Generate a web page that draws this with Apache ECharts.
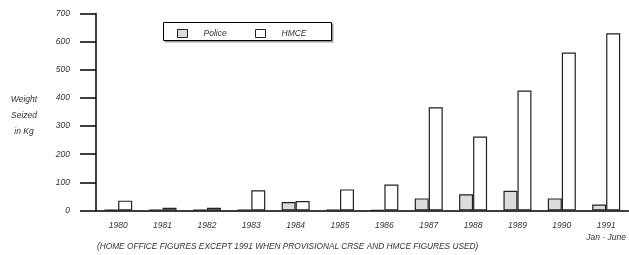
<!DOCTYPE html>
<html>
<head>
<meta charset="utf-8">
<script src="https://cdn.jsdelivr.net/npm/echarts@6/dist/echarts.min.js"></script>
<style>
  html, body { margin: 0; padding: 0; background: #fff; }
  #chart { width: 629px; height: 255px; }
</style>
</head>
<body>
<div id="chart"></div>
<script>
// years along the x axis
var years = ['1980', '1981', '1982', '1983', '1984', '1985', '1986', '1987', '1988', '1989', '1990', '1991'];
// weight seized in kg
var police = [2, 3, 2, 2, 30, 3, 1, 43, 58, 70, 43, 21];
var hmce = [35, 10, 10, 72, 34, 75, 92, 367, 263, 426, 561, 630];
var yTicks = [0, 100, 200, 300, 400, 500, 600, 700];

var font = 'Liberation Sans, Arial, sans-serif';
var myChart = echarts.init(document.getElementById('chart'));

var legendText = { fontFamily: font, fontStyle: 'italic', fontSize: 8.5, color: '#333', padding: [0, 0, 0, 11] };

var option = {
    animation: false,
    grid: { left: 96, right: 0, top: 13.5, bottom: 44.5 },
    legend: [{
        data: ['Police'], icon: 'rect', left: 177, top: 29, padding: 0, itemWidth: 10, itemHeight: 8,
        itemStyle: { borderWidth: 1 }, textStyle: legendText
    }, {
        data: ['HMCE'], icon: 'rect', left: 255, top: 29, padding: 0, itemWidth: 10, itemHeight: 8,
        itemStyle: { borderWidth: 1 }, textStyle: legendText
    }],
    xAxis: {
        type: 'category',
        data: years,
        boundaryGap: true,
        axisLine: { lineStyle: { color: '#000', width: 1.5 } },
        axisTick: { length: 6, lineStyle: { color: '#000', width: 1.5 } },
        axisLabel: {
            interval: 0, margin: 9, fontFamily: font, fontStyle: 'italic', fontSize: 8.5, color: '#333', lineHeight: 12,
            formatter: function (v) { return v === '1991' ? '1991\nJan - June' : v; }
        }
    },
    yAxis: {
        type: 'value',
        min: yTicks[0],
        max: yTicks[yTicks.length - 1],
        interval: 100,
        splitLine: { show: false },
        axisLine: { show: true, lineStyle: { color: '#000', width: 1.5 } },
        axisTick: { show: true, length: 16, lineStyle: { color: '#000', width: 1.5 } },
        axisLabel: { margin: 26, fontFamily: font, fontStyle: 'italic', fontSize: 8.5, color: '#333' }
    },
    series: [{
        name: 'Police',
        type: 'bar',
        data: police,
        barWidth: 14,
        barGap: '0%',
        itemStyle: { color: '#dcdcdc', borderColor: '#222', borderWidth: 1.2 }
    }, {
        name: 'HMCE',
        type: 'bar',
        data: hmce,
        barWidth: 14,
        itemStyle: { color: '#fff', borderColor: '#222', borderWidth: 1.2 }
    }],
    graphic: [{
        type: 'rect', z: -1,
        shape: { x: 164.5, y: 23.5, width: 169, height: 19 },
        style: { fill: '#999' }
    }, {
        type: 'rect', z: -1,
        shape: { x: 163.5, y: 22.5, width: 168, height: 18 },
        style: { fill: '#fff', stroke: '#000', lineWidth: 1 }
    }, {
        type: 'text', x: 24, y: 92,
        style: { text: 'Weight\nSeized\nin Kg', fontFamily: font, fontStyle: 'italic', fontSize: 8.5, fill: '#333', align: 'center', lineHeight: 16 }
    }, {
        type: 'text', left: 97, top: 243,
        style: { text: '(HOME OFFICE FIGURES EXCEPT 1991 WHEN PROVISIONAL CRSE AND HMCE FIGURES USED)', fontFamily: font, fontStyle: 'italic', fontSize: 8.3, fill: '#333' }
    }]
};
myChart.setOption(option);
</script>
</body>
</html>
